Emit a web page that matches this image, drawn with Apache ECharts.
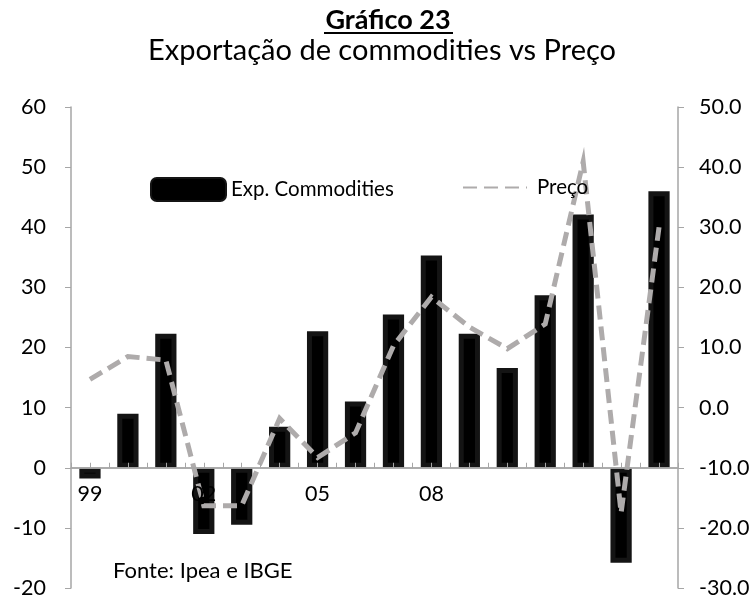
<!DOCTYPE html>
<html>
<head>
<meta charset="utf-8">
<script src="https://cdn.jsdelivr.net/npm/echarts@6/dist/echarts.min.js"></script>
<style>
  html, body { margin: 0; padding: 0; background: #fff; }
  #chart { width: 756px; height: 598px; }
</style>
</head>
<body>
<div id="chart"></div>
<script>
// Years (two-digit) on the category axis
const years = ['99', '00', '01', '02', '03', '04', '05', '06', '07', '08', '09', '10', '11', '12', '13', '14'];
// Only these year labels are printed under the axis
const shownYearLabels = ['99', '02', '05', '08'];
// Commodity exports, % change (left axis)
const exportsCommodities = [-1.8, 9.0, 22.3, -11.0, -9.5, 6.8, 22.7, 11.0, 25.5, 35.3, 22.3, 16.6, 28.7, 42.1, -15.8, 46.0];
// Price, % change (right axis)
const preco = [4.7, 8.5, 7.9, -16.3, -16.3, -1.8, -8.3, -4.2, 10.3, 18.4, 13.4, 9.8, 13.9, 40.9, -17.5, 30.0];
// Axis scales
const leftAxisMin = -20, leftAxisMax = 60, leftAxisStep = 10;
const rightAxisMin = -30, rightAxisMax = 50, rightAxisStep = 10;

const FONT = 'Lato';
const AXIS_GREY = '#a6a6a6';
const LINE_GREY = '#aeabab';
const LABEL_SIZE = 21.5;

// plot area
const GRID = { left: 71, right: 78, top: 107, bottom: 10 };
const plotHeight = 598 - GRID.top - GRID.bottom;
const unitsPerPx = (leftAxisMax - leftAxisMin) / plotHeight;
// lift the category axis from the bottom edge up to the left axis' zero
const zeroLift = -(0 - leftAxisMin) / unitsPerPx;
// short upward ticks at each year's centre, in left-axis units
const centreTickLen = 5 * unitsPerPx;

const chart = echarts.init(document.getElementById('chart'), null, { renderer: 'canvas' });

chart.setOption({
  animation: false,
  backgroundColor: '#fff',
  textStyle: { fontFamily: FONT, color: '#000' },
  grid: Object.assign({ containLabel: false, outerBoundsMode: 'none' }, GRID),
  legend: [
    {
      data: ['Exp. Commodities'],
      left: 150, top: 177, padding: 0,
      itemWidth: 75, itemHeight: 23,
      textStyle: { fontFamily: FONT, fontSize: 20.5, color: '#000' },
      selectedMode: false
    },
    {
      data: ['Preço'],
      left: 462, top: 177, padding: 0,
      itemWidth: 64, itemHeight: 23,
      itemStyle: { opacity: 0 },
      textStyle: { fontFamily: FONT, fontSize: 20.5, color: '#000', padding: [0, 0, 0, 5] },
      selectedMode: false
    }
  ],
  xAxis: {
    type: 'category',
    data: years,
    position: 'bottom',
    offset: zeroLift,
    z: 5,
    boundaryGap: true,
    axisLine: { show: true, onZero: false, lineStyle: { color: AXIS_GREY, width: 1.5 } },
    axisTick: { show: true, inside: true, length: 5, interval: 0, lineStyle: { color: AXIS_GREY, width: 1 } },
    axisLabel: {
      interval: 0,
      margin: 15,
      fontFamily: FONT, fontSize: LABEL_SIZE, color: '#000',
      formatter: v => (shownYearLabels.includes(v) ? v : '')
    },
    splitLine: { show: false }
  },
  yAxis: [
    {
      type: 'value',
      min: leftAxisMin, max: leftAxisMax, interval: leftAxisStep,
      position: 'left',
      axisLine: { show: true, onZero: false, lineStyle: { color: AXIS_GREY, width: 1.5 } },
      axisTick: { show: true, length: 6, lineStyle: { color: AXIS_GREY, width: 1 } },
      axisLabel: { margin: 25, fontFamily: FONT, fontSize: LABEL_SIZE, color: '#000' },
      splitLine: { show: false }
    },
    {
      type: 'value',
      min: rightAxisMin, max: rightAxisMax, interval: rightAxisStep,
      position: 'right',
      axisLine: { show: true, onZero: false, lineStyle: { color: AXIS_GREY, width: 1.5 } },
      axisTick: { show: true, length: 6, lineStyle: { color: AXIS_GREY, width: 1 } },
      axisLabel: { margin: 21, fontFamily: FONT, fontSize: LABEL_SIZE, color: '#000', formatter: v => v.toFixed(1) },
      splitLine: { show: false }
    }
  ],
  series: [
    {
      name: 'Exp. Commodities',
      type: 'bar',
      xAxisIndex: 0,
      yAxisIndex: 0,
      data: exportsCommodities,
      barWidth: '56%',
      itemStyle: { color: '#000', borderColor: '#141414', borderWidth: 5 },
      z: 2,
      markLine: {
        silent: true,
        symbol: 'none',
        label: { show: false },
        lineStyle: { color: AXIS_GREY, width: 1.5, type: 'solid' },
        emphasis: { disabled: true },
        data: [{ yAxis: 0, lineStyle: { width: 1.5 } }].concat(
          years.map((y, i) => [
            { coord: [i, 0], lineStyle: { width: 1 } },
            { coord: [i, centreTickLen] }
          ])
        )
      }
    },
    {
      name: 'Preço',
      type: 'line',
      xAxisIndex: 0,
      yAxisIndex: 1,
      data: preco,
      symbol: 'none',
      lineStyle: { color: LINE_GREY, width: 5, type: [14, 7], cap: 'butt', join: 'miter' },
      itemStyle: { color: LINE_GREY },
      z: 3
    }
  ],
  graphic: [
    {
      type: 'text',
      x: 388, y: 20,
      style: { text: 'Gráfico 23', fontFamily: FONT, fontWeight: 'bold', fontSize: 27, fill: '#000', align: 'center', verticalAlign: 'middle' }
    },
    {
      type: 'line',
      shape: { x1: 324, y1: 33, x2: 453, y2: 33 },
      style: { stroke: '#000', lineWidth: 2 }
    },
    {
      type: 'text',
      x: 382, y: 51,
      style: { text: 'Exportação de commodities vs Preço', fontFamily: FONT, fontSize: 29, fill: '#000', align: 'center', verticalAlign: 'middle' }
    },
    {
      type: 'text',
      x: 113, y: 571,
      style: { text: 'Fonte: Ipea e IBGE', fontFamily: FONT, fontSize: 22, fill: '#000', verticalAlign: 'middle' }
    }
  ]
});
</script>
</body>
</html>
